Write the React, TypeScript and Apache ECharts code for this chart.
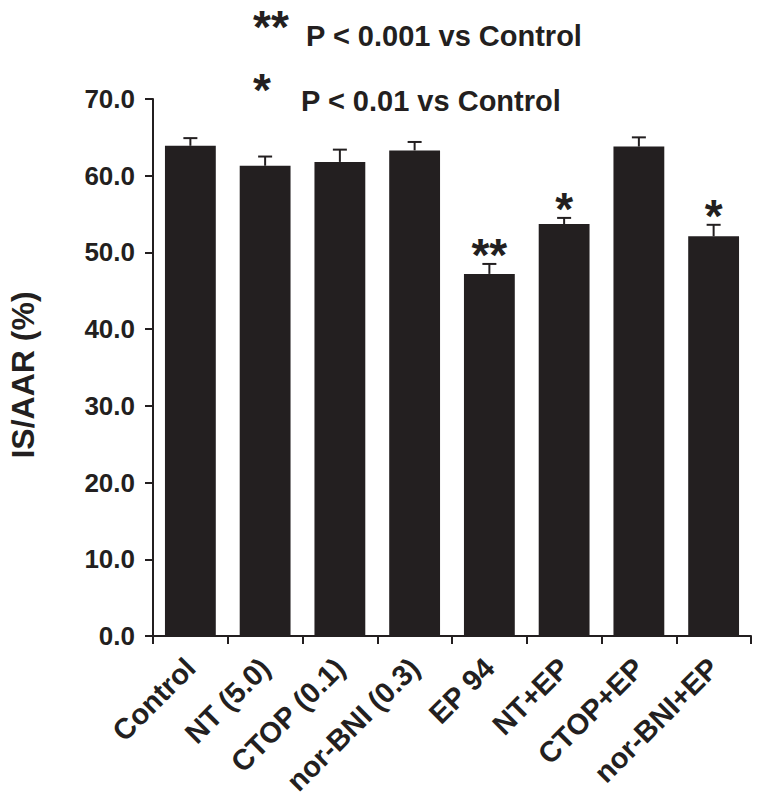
import React, { useEffect, useRef } from "react";
import * as echarts from "echarts";

const categories = [
  "Control",
  "NT (5.0)",
  "CTOP (0.1)",
  "nor-BNI (0.3)",
  "EP 94",
  "NT+EP",
  "CTOP+EP",
  "nor-BNI+EP",
];
const means = [63.9, 61.3, 61.8, 63.3, 47.2, 53.7, 63.8, 52.1];
const errors = [1.0, 1.2, 1.6, 1.1, 1.3, 0.8, 1.2, 1.5];
const significance = ["", "", "", "", "**", "*", "", "*"];
const yTicks = { min: 0, max: 70, interval: 10 };
const yAxisTitle = "IS/AAR (%)";
const legendItems = [
  { mark: "**", text: "P < 0.001 vs Control" },
  { mark: "*", text: "P < 0.01 vs Control" },
];

const INK = "#231f20";
const FONT = '"Liberation Sans", Arial, sans-serif';

export default function App() {
  const ref = useRef<HTMLDivElement>(null);

  useEffect(() => {
    document.body.style.margin = "0";
    if (!ref.current) return;
    const chart = echarts.init(ref.current, null, { renderer: "svg" });

    const graphics: any[] = [];
    const legendMarkY = [27, 90];
    const legendTextY = [36, 101];
    const legendTextX = [306, 301];
    legendItems.forEach((item, i) => {
      graphics.push({
        type: "text",
        x: 253,
        y: legendMarkY[i],
        style: {
          text: item.mark,
          fill: INK,
          font: `bold 46px ${FONT}`,
          align: "left",
          verticalAlign: "middle",
        },
      });
      graphics.push({
        type: "text",
        x: legendTextX[i],
        y: legendTextY[i],
        style: {
          text: item.text,
          fill: INK,
          font: `bold 29px ${FONT}`,
          align: "left",
          verticalAlign: "middle",
        },
      });
    });
    graphics.push({
      type: "text",
      x: 23,
      y: 375,
      rotation: Math.PI / 2,
      style: {
        text: yAxisTitle,
        fill: INK,
        font: `bold 32px ${FONT}`,
        align: "center",
        verticalAlign: "middle",
      },
    });

    chart.setOption({
      animation: false,
      backgroundColor: "#ffffff",
      grid: { left: 153, right: 11, top: 99, bottom: 168, containLabel: false },
      graphic: graphics,
      xAxis: {
        type: "category",
        data: categories,
        axisLine: { show: true, lineStyle: { color: INK, width: 2 } },
        axisTick: { show: true, alignWithLabel: false, length: 8, lineStyle: { color: INK, width: 2 } },
        axisLabel: {
          interval: 0,
          rotate: 45,
          margin: 27,
          color: INK,
          fontFamily: FONT,
          fontWeight: "bold",
          fontSize: 29,
        },
      },
      yAxis: {
        type: "value",
        min: yTicks.min,
        max: yTicks.max,
        interval: yTicks.interval,
        axisLine: { show: true, lineStyle: { color: INK, width: 2 } },
        axisTick: { show: true, length: 8, lineStyle: { color: INK, width: 2 } },
        splitLine: { show: false },
        axisLabel: {
          margin: 18,
          color: INK,
          fontFamily: FONT,
          fontWeight: "bold",
          fontSize: 26,
          formatter: (v: number) => v.toFixed(1),
        },
      },
      series: [
        {
          type: "bar",
          data: means,
          barWidth: "68%",
          itemStyle: { color: INK },
          z: 2,
        },
        {
          type: "custom",
          data: means.map((m, i) => [i, m, errors[i]]),
          encode: { x: 0, y: 1 },
          z: 3,
          renderItem: (params: any, api: any) => {
            const i = api.value(0);
            const m = api.value(1);
            const e = api.value(2);
            const base = api.coord([i, m]);
            const top = api.coord([i, m + e]);
            const half = 7;
            const children: any[] = [
              {
                type: "line",
                shape: { x1: base[0], y1: base[1], x2: top[0], y2: top[1] },
                style: { stroke: INK, lineWidth: 2 },
              },
              {
                type: "line",
                shape: { x1: top[0] - half, y1: top[1], x2: top[0] + half, y2: top[1] },
                style: { stroke: INK, lineWidth: 2 },
              },
            ];
            const sig = significance[params.dataIndex];
            if (sig) {
              children.push({
                type: "text",
                style: {
                  text: sig,
                  x: top[0],
                  y: top[1] - 9,
                  fill: INK,
                  font: `bold 46px ${FONT}`,
                  align: "center",
                  verticalAlign: "middle",
                },
              });
            }
            return { type: "group", children };
          },
        },
      ],
    });

    return () => chart.dispose();
  }, []);

  return <div ref={ref} style={{ width: 762, height: 804 }} />;
}
